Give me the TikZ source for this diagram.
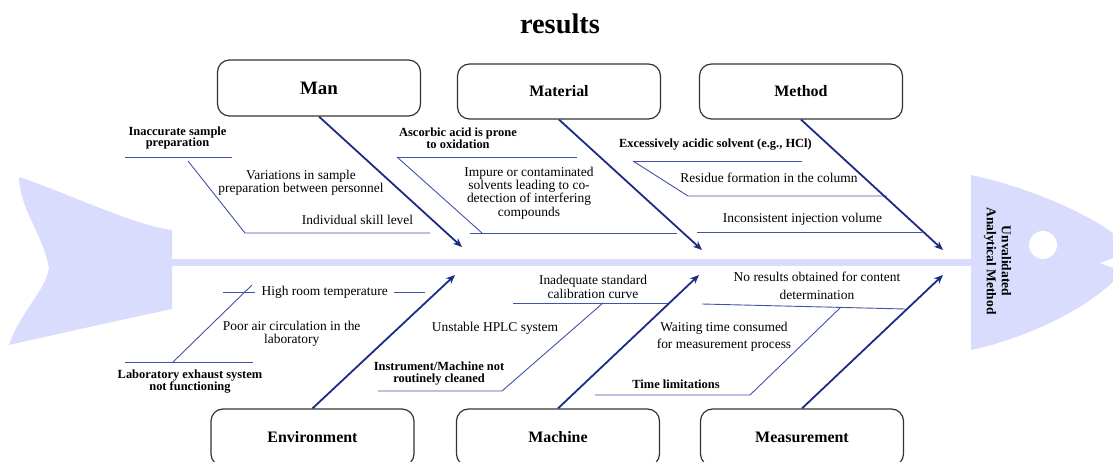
\documentclass[tikz,border=0pt]{standalone}
\usepackage{fontspec}
\setmainfont{Liberation Serif}
\usetikzlibrary{arrows.meta}
\definecolor{fishc}{HTML}{D9DCFC}
\definecolor{navyc}{HTML}{1C2B86}
\definecolor{subc}{HTML}{4252A8}
\definecolor{boxc}{HTML}{333333}
\tikzset{
  reg/.style={font=\fontsize{13.5}{13.3}\selectfont, align=center, inner sep=0pt},
  bld/.style={font=\fontsize{12.5}{12}\selectfont\bfseries, align=center, inner sep=0pt},
  cat/.style={draw=boxc, rounded corners=12bp, line width=1.2bp, minimum width=203bp, inner sep=0pt, font=\fontsize{16}{16}\selectfont\bfseries},
  mainarrow/.style={draw=navyc, line width=1.8bp, -{Stealth[length=9bp,width=7.5bp]}},
  subline/.style={draw=subc, line width=0.9bp},
}
\begin{document}
\begin{tikzpicture}[x=1bp,y=-1bp]
\useasboundingbox (0,0) rectangle (1113,462);
% fish tail
\fill[fishc] (19,177) .. controls (60,190) and (135,226) .. (172,230) -- (172,309)
  .. controls (120,320) and (40,338) .. (9,345)
  .. controls (20,312) and (45,292) .. (49,268)
  .. controls (42,232) and (20,210) .. (19,177) -- cycle;
% spine
\fill[fishc] (171,259) rectangle (972,266);
% head
\fill[fishc] (971,175) .. controls (1010,183) and (1075,205) .. (1114,234) -- (1114,281)
  .. controls (1075,318) and (1010,342) .. (971,350) -- cycle;
\fill[white] (1100,263) -- (1114,258) -- (1114,268) -- cycle;
\fill[white] (1043,245) circle[radius=14];
\node[font=\fontsize{13.5}{15}\selectfont\bfseries, align=center, rotate=-90, inner sep=0pt] (effect) at (997.5,261) {Unvalidated\\Analytical Method};
% title
\node[font=\fontsize{28.5}{28.5}\selectfont\bfseries, inner sep=0pt] (title) at (560,24) {results};
% category boxes
\node[cat, minimum height=56bp, font=\fontsize{19}{19}\selectfont\bfseries] (man) at (319,88) {Man};
\node[cat, minimum height=55bp] (material) at (559,91.5) {Material};
\node[cat, minimum height=55bp] (method) at (801,91.5) {Method};
\node[cat, minimum height=57bp] (env) at (312.5,437.5) {Environment};
\node[cat, minimum height=57bp] (machine) at (558,437.5) {Machine};
\node[cat, minimum height=57bp] (meas) at (802,437.5) {Measurement};
% arrow tips
\coordinate (tman) at (462,247);
\coordinate (tmat) at (702,250);
\coordinate (tmet) at (943,250);
\coordinate (tenv) at (455,275);
\coordinate (tmac) at (699,275);
\coordinate (tmea) at (943,275);
% Man branch
\node[bld] (m1) at (177.5,138) {Inaccurate sample\\preparation};
\node[reg] (m2) at (301,182.5) {Variations in sample\\preparation between personnel};
\node[reg] (m3) at (357.5,220) {Individual skill level};
\draw[subline] (125,157) -- (232,157);
\draw[subline] (188,161) -- (245,233) -- (430,233);
% Material branch
\node[bld] (a1) at (458,138) {Ascorbic acid is prone\\to oxidation};
\node[reg] (a2) at (529,193) {Impure or contaminated\\solvents leading to co-\\detection of interfering\\compounds};
\draw[subline] (397,157) -- (577,157);
\draw[subline] (397,157) -- (482,233);
\draw[subline] (470,233) -- (677,233);
% Method branch
\node[bld] (d1) at (715.5,145) {Excessively acidic solvent (e.g., HCl)};
\node[reg] (d2) at (769,178) {Residue formation in the column};
\node[reg] (d3) at (802.5,219) {Inconsistent injection volume};
\draw[subline] (633,161) -- (802,161);
\draw[subline] (633,161) -- (688,196) -- (887,196);
\draw[subline] (697,232) -- (922,232);
% Environment branch
\node[reg, inner xsep=6bp] (e1) at (324.7,292) {High room temperature};
\draw[subline] (223,292) -- (e1.west);
\draw[subline] (e1.east) -- (425,292);
\draw[subline] (252,285) -- (173,362);
\draw[subline] (125,362) -- (253,362);
\node[reg] (e2) at (291.7,334) {Poor air circulation in the\\laboratory};
\node[bld] (e3) at (190,381.5) {Laboratory exhaust system\\not functioning};
% Machine branch
\node[reg] (c1) at (593,287) {Inadequate standard\\calibration curve};
\node[reg] (c2) at (495,328) {Unstable HPLC system};
\node[bld] (c3) at (439,374) {Instrument/Machine not\\routinely cleaned};
\draw[subline] (513,303) -- (668,303);
\draw[subline] (603,303) -- (502,391) -- (378,391);
% Measurement branch
\node[reg, font=\fontsize{13.5}{18}\selectfont] (s1) at (817,286) {No results obtained for content\\determination};
\node[reg, font=\fontsize{13.5}{17}\selectfont] (s2) at (724,336.5) {Waiting time consumed\\for measurement process};
\node[bld] (s3) at (676,384) {Time limitations};
\draw[subline] (702,304) -- (905,309);
\draw[subline] (840,308) -- (750,395) -- (595,395);
% main arrows
\draw[mainarrow] (man.south) -- (tman);
\draw[mainarrow] (material.south) -- (tmat);
\draw[mainarrow] (method.south) -- (tmet);
\draw[mainarrow] (env.north) -- (tenv);
\draw[mainarrow] (machine.north) -- (tmac);
\draw[mainarrow] (meas.north) -- (tmea);
\end{tikzpicture}
\end{document}
